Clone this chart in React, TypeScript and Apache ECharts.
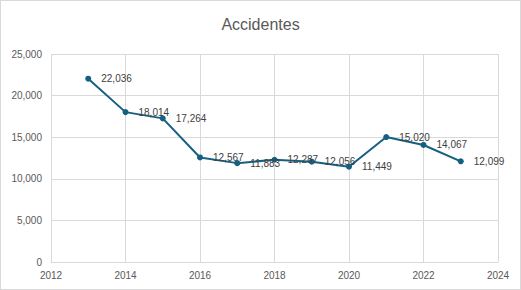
import React, { useEffect, useRef } from "react";
import * as echarts from "echarts";

const years = [2013, 2014, 2015, 2016, 2017, 2018, 2019, 2020, 2021, 2022, 2023];
const accidents = [22036, 18014, 17264, 12567, 11883, 12287, 12056, 11449, 15020, 14067, 12099];
const chartTitle = "Accidentes";

const fmt = (v: number) => v.toLocaleString("en-US");

export default function App() {
  const ref = useRef<HTMLDivElement>(null);
  useEffect(() => {
    if (!ref.current) return;
    const chart = echarts.init(ref.current, undefined, { renderer: "svg" });
    const font = "Liberation Sans, Arial, sans-serif";
    chart.setOption({
      animation: false,
      backgroundColor: "#ffffff",
      title: {
        text: chartTitle,
        left: "center",
        top: 10,
        textStyle: { color: "#595959", fontSize: 16, fontWeight: "normal", fontFamily: font },
      },
      grid: { left: 50, right: 22, top: 53, bottom: 27, containLabel: false },
      xAxis: {
        type: "value",
        min: 2012,
        max: 2024,
        interval: 2,
        axisLine: { show: true, lineStyle: { color: "#d9d9d9" } },
        axisTick: { show: false },
        splitLine: { show: true, lineStyle: { color: "#d9d9d9" } },
        axisLabel: { color: "#595959", fontSize: 10, fontFamily: font, margin: 8, formatter: (v: number) => String(v) },
      },
      yAxis: {
        type: "value",
        min: 0,
        max: 25000,
        interval: 5000,
        axisLine: { show: false },
        axisTick: { show: false },
        splitLine: { show: true, lineStyle: { color: "#d9d9d9" } },
        axisLabel: { color: "#595959", fontSize: 10, fontFamily: font, margin: 9, formatter: (v: number) => fmt(v) },
      },
      series: [
        {
          type: "line",
          data: years.map((y, i) => [y, accidents[i]]),
          color: "#156082",
          lineStyle: { width: 2, color: "#156082" },
          symbol: "circle",
          symbolSize: 6,
          itemStyle: { color: "#156082" },
          label: {
            show: true,
            position: "right",
            distance: 10,
            color: "#404040",
            fontSize: 10,
            fontFamily: font,
            formatter: (p: any) => fmt(p.value[1]),
          },
        },
      ],
    });
    return () => chart.dispose();
  }, []);
  return (
    <div
      style={{
        position: "fixed",
        left: 0,
        top: 0,
        width: 521,
        height: 290,
        border: "1px solid #d9d9d9",
        boxSizing: "border-box",
        background: "#fff",
      }}
    >
      <div ref={ref} style={{ width: 519, height: 288 }} />
    </div>
  );
}
